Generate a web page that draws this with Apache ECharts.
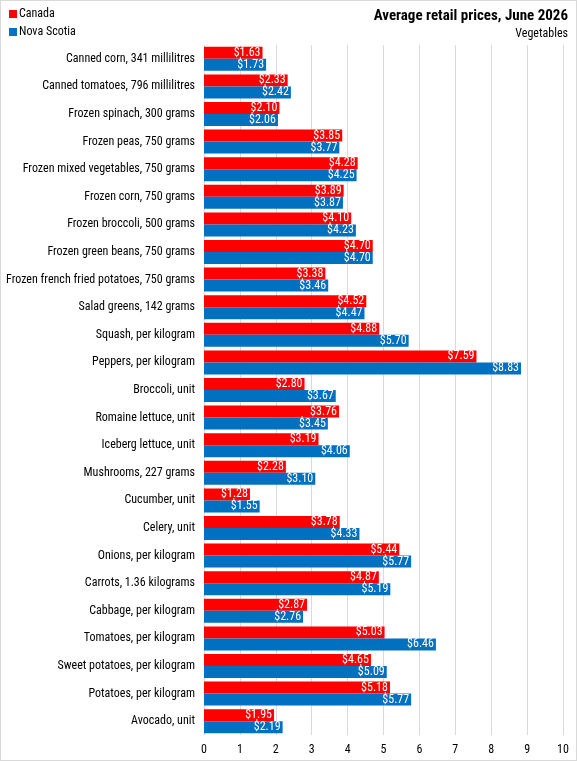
<!DOCTYPE html>
<html><head><meta charset="utf-8">
<script src="https://cdn.jsdelivr.net/npm/echarts@6/dist/echarts.min.js"></script>
<style>html,body{margin:0;padding:0;background:#fff}#c{width:575px;height:759px;border:1px solid #d9d9d9}</style>
</head><body><div id="c"></div>
<script>
const categories = ["Canned corn, 341 millilitres","Canned tomatoes, 796 millilitres","Frozen spinach, 300 grams","Frozen peas, 750 grams","Frozen mixed vegetables, 750 grams","Frozen corn, 750 grams","Frozen broccoli, 500 grams","Frozen green beans, 750 grams","Frozen french fried potatoes, 750 grams","Salad greens, 142 grams","Squash, per kilogram","Peppers, per kilogram","Broccoli, unit","Romaine lettuce, unit","Iceberg lettuce, unit","Mushrooms, 227 grams","Cucumber, unit","Celery, unit","Onions, per kilogram","Carrots, 1.36 kilograms","Cabbage, per kilogram","Tomatoes, per kilogram","Sweet potatoes, per kilogram","Potatoes, per kilogram","Avocado, unit"];
const canada = [1.63,2.33,2.10,3.85,4.28,3.89,4.10,4.70,3.38,4.52,4.88,7.59,2.80,3.76,3.19,2.28,1.28,3.78,5.44,4.87,2.87,5.03,4.65,5.18,1.95];
const novaScotia = [1.73,2.42,2.06,3.77,4.25,3.87,4.23,4.70,3.46,4.47,5.70,8.83,3.67,3.45,4.06,3.10,1.55,4.33,5.77,5.19,2.76,6.46,5.09,5.77,2.19];
const xTicks = {min:0,max:10,interval:1};
const FONT = "'Liberation Sans Narrow','Roboto Condensed','Liberation Sans',sans-serif";
const chart = echarts.init(document.getElementById('c'));
const lbl = {show:true,position:'insideRight',color:'#fff',fontSize:12,fontFamily:FONT,distance:2,formatter:p=>'$'+p.value.toFixed(2)};
chart.setOption({
  animation:false,
  textStyle:{fontFamily:FONT},
  title:[{text:'Average retail prices, June 2026',right:3,top:3,textStyle:{fontSize:15,fontWeight:'bold',color:'#000',fontFamily:FONT}},
         {text:'Vegetables',right:3,top:22,textStyle:{fontSize:12,fontWeight:'normal',color:'#000',fontFamily:FONT}}],
  legend:{orient:'vertical',left:3,top:2,itemWidth:8,itemHeight:8,itemGap:6,icon:'rect',textStyle:{fontSize:12,color:'#000',fontFamily:FONT,padding:[0,0,0,-3]},data:['Canada','Nova Scotia']},
  grid:{left:203,right:13,top:44,bottom:25,containLabel:false},
  xAxis:{type:'value',min:xTicks.min,max:xTicks.max,interval:xTicks.interval,axisLine:{show:false},axisTick:{show:false},
    splitLine:{lineStyle:{color:'#d9d9d9'}},axisLabel:{color:'#000',fontSize:12,margin:9,fontFamily:FONT}},
  yAxis:{type:'category',data:categories,inverse:true,axisTick:{show:false},axisLine:{show:true,lineStyle:{color:'#d9d9d9'}},
    axisLabel:{color:'#000',fontSize:12,margin:9,fontFamily:FONT}},
  series:[
    {name:'Canada',type:'bar',data:canada,itemStyle:{color:'#ff0000'},barGap:'0%',barCategoryGap:'13%',label:lbl},
    {name:'Nova Scotia',type:'bar',data:novaScotia,itemStyle:{color:'#0070c0'},barGap:'0%',barCategoryGap:'13%',label:lbl}
  ]
});
</script></body></html>
